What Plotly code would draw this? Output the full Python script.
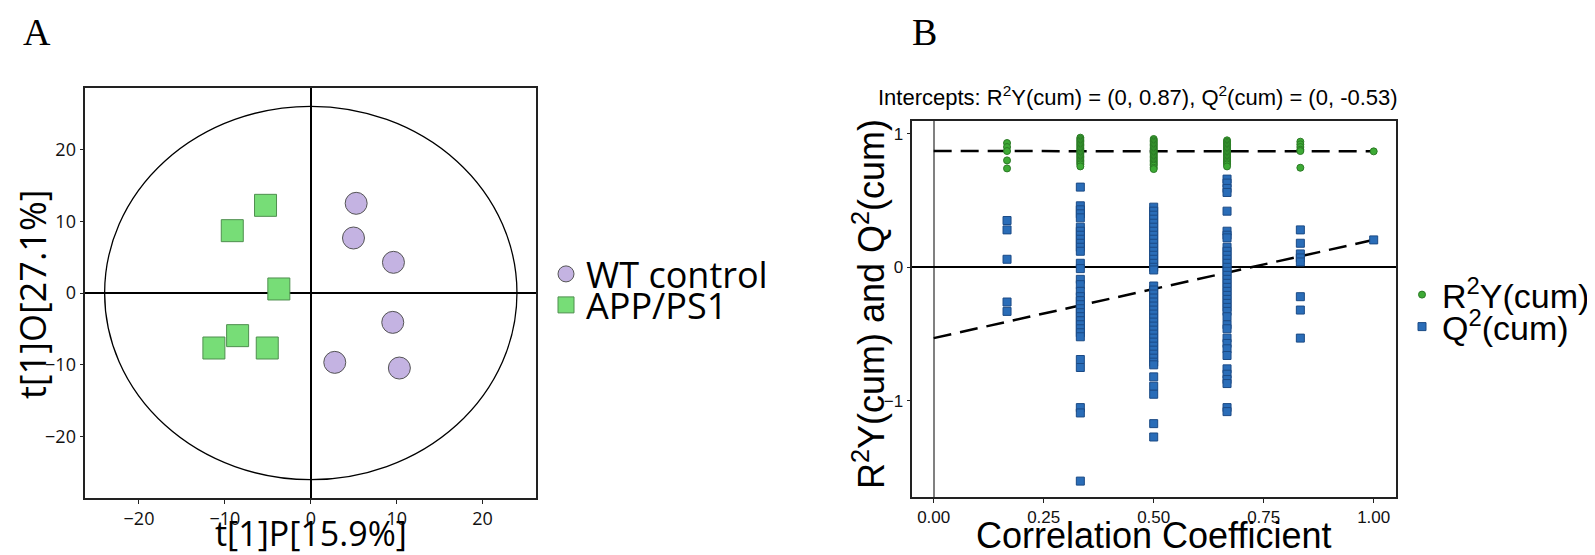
import plotly.graph_objects as go

# ---------------- Panel A data (OPLS-DA scores) ----------------
wt_t1p = [5.28, 4.97, 9.62, 9.54, 2.79, 10.31]
wt_t1o = [12.49, 7.66, 4.27, -4.09, -9.66, -10.45]
app_t1p = [-5.27, -9.14, -3.72, -8.52, -11.28, -5.07]
app_t1o = [12.21, 8.68, 0.56, -5.94, -7.66, -7.66]
ellipse_a = 24.0   # Hotelling T2 semi-axis along t[1]P
ellipse_b = 26.0   # Hotelling T2 semi-axis along t[1]O
ticks_a = [-20, -10, 0, 10, 20]

# ---------------- Panel B data (permutation test) ----------------
perm_cc = [0.1667, 0.3333, 0.5, 0.6667, 0.8333, 1.0]
r2y_groups = [
    [0.93, 0.90, 0.87, 0.80, 0.74],
    [0.97, 0.96, 0.95, 0.94, 0.93, 0.92, 0.91, 0.90, 0.89, 0.88, 0.87, 0.86,
     0.85, 0.84, 0.83, 0.82, 0.81, 0.80, 0.79, 0.78, 0.77, 0.755],
    [0.96, 0.95, 0.94, 0.93, 0.92, 0.91, 0.90, 0.89, 0.88, 0.87, 0.86, 0.85,
     0.84, 0.83, 0.82, 0.81, 0.80, 0.79, 0.78, 0.77, 0.76, 0.745, 0.735],
    [0.95, 0.94, 0.93, 0.92, 0.91, 0.90, 0.89, 0.88, 0.87, 0.86, 0.85, 0.84,
     0.83, 0.82, 0.81, 0.80, 0.79, 0.78, 0.77, 0.755],
    [0.94, 0.92, 0.90, 0.88, 0.87, 0.745],
    [0.8675],
]
q2_groups = [
    [0.35, 0.28, 0.06, -0.26, -0.33],
    [0.60, 0.46, 0.43, 0.40, 0.37, 0.30, 0.27, 0.24, 0.21, 0.18, 0.15, 0.12,
     0.03, -0.01, -0.09, -0.13, -0.18, -0.22, -0.25, -0.28, -0.31, -0.34,
     -0.37, -0.40, -0.43, -0.46, -0.49, -0.52, -0.69, -0.75, -1.05, -1.09,
     -1.60],
    [0.45, 0.42, 0.39, 0.36, 0.33, 0.30, 0.27, 0.24, 0.21, 0.18, 0.15, 0.12,
     0.09, 0.06, 0.03, 0.00, -0.02, -0.14, -0.17, -0.20, -0.23, -0.26, -0.29,
     -0.32, -0.35, -0.38, -0.41, -0.44, -0.47, -0.50, -0.53, -0.56, -0.59,
     -0.62, -0.65, -0.68, -0.71, -0.73, -0.82, -0.89, -0.95, -1.17, -1.27],
    [0.66, 0.63, 0.59, 0.56, 0.42, 0.27, 0.24, 0.22, 0.15, 0.12, 0.09, 0.06,
     0.03, 0.00, -0.03, -0.06, -0.09, -0.12, -0.15, -0.18, -0.21, -0.24,
     -0.27, -0.30, -0.33, -0.37, -0.43, -0.46, -0.53, -0.57, -0.61, -0.66,
     -0.76, -0.80, -0.84, -0.87, -1.05, -1.08],
    [0.28, 0.18, 0.10, 0.07, 0.04, -0.22, -0.32, -0.53],
    [0.205],
]
r2y_intercept = 0.87
q2_intercept = -0.53
ticks_bx = [0, 0.25, 0.5, 0.75, 1.0]
ticks_by = [-1, 0, 1]

# expand grouped values
r2_x, r2_y, q2_x, q2_y = [], [], [], []
for cc, vals in zip(perm_cc, r2y_groups):
    r2_x += [cc] * len(vals)
    r2_y += vals
for cc, vals in zip(perm_cc, q2_groups):
    q2_x += [cc] * len(vals)
    q2_y += vals

W, H = 1595, 555
def px(x):
    return x / W
def py(y):
    return 1 - y / H

FONT_A = "Open Sans"
FONT_B = "Liberation Sans, Arial"
SERIF = "Liberation Serif, Times New Roman"

fig = go.Figure()

# Panel A traces
fig.add_trace(go.Scatter(
    x=wt_t1p, y=wt_t1o, mode="markers", name="WT control", legend="legend",
    marker=dict(symbol="circle", size=22, color="#C4B3E2",
                line=dict(color="#555555", width=1)),
    xaxis="x", yaxis="y"))
fig.add_trace(go.Scatter(
    x=app_t1p, y=app_t1o, mode="markers", name="APP/PS1", legend="legend2",
    marker=dict(symbol="square", size=22, color="#77DD77",
                line=dict(color="#4F8F4F", width=1)),
    xaxis="x", yaxis="y"))

# Panel B regression lines (from intercept to the real model point at cc=1)
fig.add_trace(go.Scatter(
    x=[0, perm_cc[-1]], y=[r2y_intercept, r2y_groups[-1][0]], mode="lines",
    line=dict(color="black", width=2.5, dash="18px,9px"), showlegend=False,
    xaxis="x2", yaxis="y2", hoverinfo="skip"))
fig.add_trace(go.Scatter(
    x=[0, perm_cc[-1]], y=[q2_intercept, q2_groups[-1][0]], mode="lines",
    line=dict(color="black", width=2.5, dash="18px,9px"), showlegend=False,
    xaxis="x2", yaxis="y2", hoverinfo="skip"))

fig.add_trace(go.Scatter(
    x=r2_x, y=r2_y, mode="markers", name="R<sup>2</sup>Y(cum)", legend="legend3",
    marker=dict(symbol="circle", size=7, color="#3DAA35",
                line=dict(color="#2B7A25", width=1)),
    xaxis="x2", yaxis="y2"))
fig.add_trace(go.Scatter(
    x=q2_x, y=q2_y, mode="markers", name="Q<sup>2</sup>(cum)", legend="legend4",
    marker=dict(symbol="square", size=8, color="#2A6DB8",
                line=dict(color="#1B4A85", width=1)),
    xaxis="x2", yaxis="y2"))

axis_common = dict(showgrid=False, showline=True, mirror=True, linecolor="#222222",
                   linewidth=1.5, ticks="outside", ticklen=4, tickcolor="#222222",
                   zeroline=True)

def leg(x, y, family, size):
    return dict(x=px(x), y=py(y), xanchor="left", yanchor="middle",
                font=dict(family=family, size=size, color="black"),
                bgcolor="rgba(0,0,0,0)", itemsizing="trace")

fig.update_layout(
    width=W, height=H, margin=dict(l=0, r=0, t=0, b=0),
    paper_bgcolor="white", plot_bgcolor="white",
    xaxis=dict(domain=[px(77.3), px(528.3)], range=[-26.25, 26.25],
               tickvals=ticks_a, zerolinecolor="black", zerolinewidth=1.5,
               tickfont=dict(family=FONT_A, size=18, color="#111"),
               anchor="y", **axis_common),
    yaxis=dict(domain=[py(490), py(80)], range=[-28.55, 28.55],
               tickvals=ticks_a, zerolinecolor="black", zerolinewidth=1.5,
               tickfont=dict(family=FONT_A, size=18, color="#111"),
               anchor="x", **axis_common),
    xaxis2=dict(domain=[px(904.3), px(1387.7)], range=[-0.0486, 1.05],
                tickvals=ticks_bx, tickformat=".2f",
                zerolinecolor="#808080", zerolinewidth=2,
                tickfont=dict(family=FONT_B, size=17, color="#111"),
                anchor="y2", **axis_common),
    yaxis2=dict(domain=[py(489), py(112.7)], range=[-1.719, 1.097],
                tickvals=ticks_by, zerolinecolor="black", zerolinewidth=1.5,
                tickfont=dict(family=FONT_B, size=17, color="#111"),
                anchor="x2", **axis_common),
    shapes=[dict(type="circle", xref="x", yref="y", x0=-ellipse_a, x1=ellipse_a,
                 y0=-ellipse_b, y1=ellipse_b, line=dict(color="black", width=1.3),
                 layer="below")],
    legend=leg(538, 266, FONT_A, 36),
    legend2=leg(538, 297, FONT_A, 36),
    legend3=leg(1394, 287, FONT_B, 34),
    legend4=leg(1394, 319, FONT_B, 34),
)

title_b = ("Intercepts: R<sup>2</sup>Y(cum) = (0, {:.2f}), "
           "Q<sup>2</sup>(cum) = (0, {:.2f})").format(r2y_intercept, q2_intercept)

def ann(text, x, y, size, family, angle=0):
    return dict(text=text, x=px(x), y=py(y), xref="paper", yref="paper",
                xanchor="center", yanchor="middle", showarrow=False,
                textangle=angle, font=dict(family=family, size=size, color="black"))

annotations = [
    ann("A", 29, 24, 38, SERIF),
    ann("B", 917, 24, 38, SERIF),
    ann("t[1]P[15.9%]", 303, 525, 34, FONT_A),
    ann("t[1]O[27.1%]", 24, 286, 36, FONT_A, -90),
    ann(title_b, 1130, 88, 22, FONT_B),
    ann("Correlation Coefficient", 1146, 527, 36, FONT_B),
    ann("R<sup>2</sup>Y(cum) and Q<sup>2</sup>(cum)", 861, 296, 36, FONT_B, -90),
]
fig.update_layout(annotations=annotations)

fig.write_html("out.html")
